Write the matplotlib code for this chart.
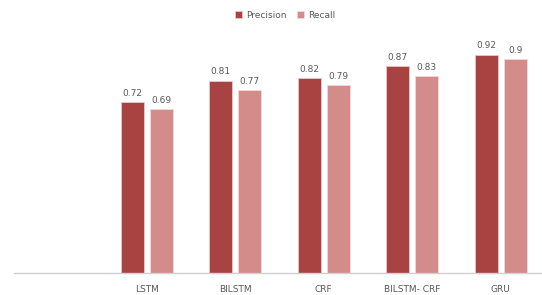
import numpy as np
import matplotlib.pyplot as plt

categories = ['', 'LSTM', 'BILSTM', 'CRF', 'BILSTM- CRF', 'GRU']
precision = [None, 0.72, 0.81, 0.82, 0.87, 0.92]
recall = [None, 0.69, 0.77, 0.79, 0.83, 0.90]
value_labels_p = ['0.72', '0.81', '0.82', '0.87', '0.92']
value_labels_r = ['0.69', '0.77', '0.79', '0.83', '0.9']

c_prec = '#a84341'
c_rec = '#d48c8b'
txt = '#595959'

fig = plt.figure(figsize=(5.42, 2.95), dpi=100)
ax = fig.add_axes([14 / 542, 22 / 295, 531 / 542, 237.5 / 295])

x = np.arange(len(categories))
w = 0.26
off = 0.164
idx = [i for i in range(len(categories)) if precision[i] is not None]
px = x[idx] - off
rx = x[idx] + off
pv = [precision[i] for i in idx]
rv = [recall[i] for i in idx]

bp = ax.bar(px, pv, w, color=c_prec, edgecolor='#e8c8c8', linewidth=0.6, label='Precision')
br = ax.bar(rx, rv, w, color=c_rec, edgecolor='#f0dada', linewidth=0.6, label='Recall')

for xi, v, s in zip(px, pv, value_labels_p):
    ax.text(xi, v + 0.018, s, ha='center', va='bottom', fontsize=6.5, color=txt)
for xi, v, s in zip(rx, rv, value_labels_r):
    ax.text(xi, v + 0.018, s, ha='center', va='bottom', fontsize=6.5, color=txt)

ax.set_xlim(-0.5, len(categories) - 0.5)
ax.set_ylim(0, 1.0)
ax.set_xticks(x)
ax.set_xticklabels(categories, fontsize=6.5, color=txt)
ax.tick_params(axis='x', length=0, pad=9)
ax.set_yticks([])
for side in ['top', 'right', 'left']:
    ax.spines[side].set_visible(False)
ax.spines['bottom'].set_color('#d0d0d0')
ax.spines['bottom'].set_linewidth(1.0)

fig.legend(handles=[bp, br], labels=['Precision', 'Recall'], loc='center',
           bbox_to_anchor=(285 / 542, 1 - 15 / 295), ncol=2, frameon=False,
           fontsize=6.5, handlelength=0.8, handleheight=0.8, handletextpad=0.4,
           columnspacing=1.2, labelcolor=txt)

fig.savefig('out.png', dpi=100)
